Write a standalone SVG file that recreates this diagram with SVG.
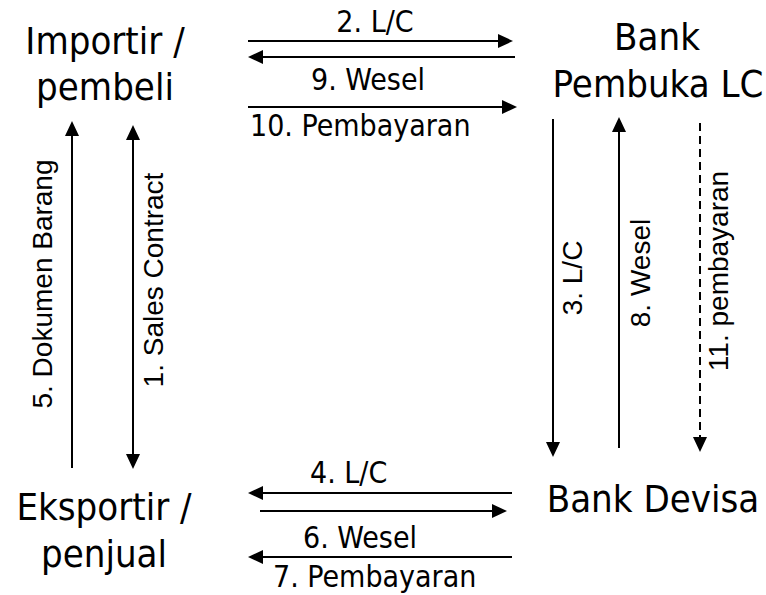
<svg xmlns="http://www.w3.org/2000/svg" width="766" height="595" viewBox="0 0 766 595">
<style>
.node{font-family:"DejaVu Sans Condensed","DejaVu Sans",sans-serif;font-size:38px;fill:#000;text-anchor:middle}
.hl{font-family:"DejaVu Sans Condensed","DejaVu Sans",sans-serif;font-size:30px;fill:#000}
.vl{font-family:"Liberation Sans",Arial,sans-serif;font-size:28px;fill:#000;text-anchor:middle}
.c{stroke:#000;stroke-width:2;fill:none}
.d{stroke-dasharray:8 5}
</style>
<defs>
<marker id="ah" viewBox="0 0 15 14" refX="5" refY="7" markerWidth="15" markerHeight="14" markerUnits="userSpaceOnUse" orient="auto-start-reverse">
<path d="M0,0 L15,7 L0,14 z" fill="#000"/>
</marker>
</defs>
<rect width="766" height="595" fill="#fff"/>
<g id="importir">
<text class="node" x="105" y="54">Importir /</text>
<text class="node" x="105" y="100">pembeli</text>
</g>
<g id="bank-pembuka">
<text class="node" x="657" y="50">Bank</text>
<text class="node" x="658" y="97">Pembuka LC</text>
</g>
<g id="eksportir">
<text class="node" x="104" y="520">Eksportir /</text>
<text class="node" x="104" y="567">penjual</text>
</g>
<g id="bank-devisa">
<text class="node" x="653" y="512">Bank Devisa</text>
</g>
<g id="connectors">
<line class="c" x1="248" y1="41" x2="503" y2="41" marker-end="url(#ah)"/>
<line class="c" x1="515" y1="57" x2="258" y2="57" marker-end="url(#ah)"/>
<line class="c" x1="248" y1="107" x2="507" y2="107" marker-end="url(#ah)"/>
<line class="c" x1="512" y1="493" x2="258" y2="493" marker-end="url(#ah)"/>
<line class="c" x1="260" y1="511" x2="497" y2="511" marker-end="url(#ah)"/>
<line class="c" x1="512" y1="557" x2="258" y2="557" marker-end="url(#ah)"/>
<line class="c" x1="72" y1="468" x2="72" y2="131" marker-end="url(#ah)"/>
<line class="c" x1="133" y1="135" x2="133" y2="459" marker-start="url(#ah)" marker-end="url(#ah)"/>
<line class="c" x1="553" y1="119" x2="553" y2="447" marker-end="url(#ah)"/>
<line class="c" x1="619" y1="448" x2="619" y2="127" marker-end="url(#ah)"/>
<line class="c d" x1="700" y1="123" x2="700" y2="442" marker-end="url(#ah)"/>
<text class="hl" x="375" y="32" text-anchor="middle">2. L/C</text>
<text class="hl" x="368" y="90" text-anchor="middle">9. Wesel</text>
<text class="hl" x="250" y="136" font-size="32">10. Pembayaran</text>
<text class="hl" x="310" y="483">4. L/C</text>
<text class="hl" x="303" y="548">6. Wesel</text>
<text class="hl" x="273" y="587">7. Pembayaran</text>
<text class="vl" transform="translate(52,284) rotate(-90)">5. Dokumen Barang</text>
<text class="vl" transform="translate(163,280) rotate(-90)">1. Sales Contract</text>
<text class="vl" transform="translate(582,278) rotate(-90)">3. L/C</text>
<text class="vl" transform="translate(650,273) rotate(-90)">8. Wesel</text>
<text class="vl" transform="translate(728,271) rotate(-90)">11. pembayaran</text>
</g>
</svg>
